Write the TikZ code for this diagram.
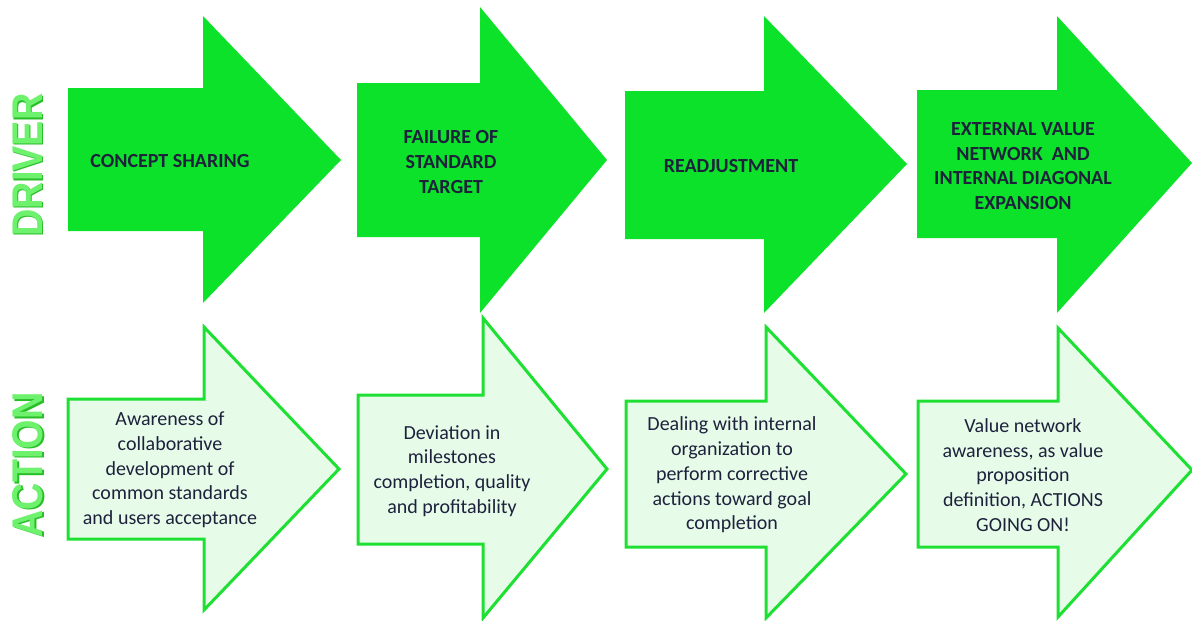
\documentclass[tikz,border=0pt]{standalone}
\usepackage{fontspec}
\setmainfont{Carlito}
\newfontfamily\labelfont{Liberation Sans}
\usepackage{graphicx}
\definecolor{drvfill}{RGB}{12,226,42}
\definecolor{actfill}{RGB}{230,252,233}
\definecolor{actline}{RGB}{30,224,50}
\definecolor{txt}{RGB}{30,33,60}
\definecolor{lbllight}{RGB}{110,242,110}
\definecolor{lbldark}{RGB}{40,190,40}
\newcommand{\myarrow}[8]{(#1,#2) -- (#4,#2) -- (#4,#5) -- (#7,#8) -- (#4,#6) -- (#4,#3) -- (#1,#3) -- cycle}
\begin{document}
\begin{tikzpicture}[x=1pt,y=-1pt,
  drvarrow/.style={fill=drvfill},
  actarrow/.style={fill=actfill,draw=actline,line width=3pt,line join=miter},
  drvtext/.style={font=\fontsize{20}{24.7}\selectfont\bfseries,text=txt,align=center,inner sep=0pt},
  acttext/.style={font=\fontsize{20}{24.7}\selectfont,text=txt,align=center,inner sep=0pt},
  sidelabel/.style={rotate=90,font=\labelfont\bfseries\fontsize{43}{43}\selectfont,inner sep=0pt}]
\useasboundingbox (0,0) rectangle (1192,621);
\clip (0,0) rectangle (1192,621);
% DRIVER row
\path[drvarrow] \myarrow{68}{88}{231}{203}{16}{303}{341}{160};
\path[drvarrow] \myarrow{357}{83}{237}{480}{7}{313}{607}{160};
\path[drvarrow] \myarrow{625}{91}{239}{764}{16}{313}{907}{164};
\path[drvarrow] \myarrow{917}{90}{238}{1057}{16}{313}{1192}{163};
% ACTION row
\path[actarrow] \myarrow{68}{399}{539}{204}{327}{610}{339}{469};
\path[actarrow] \myarrow{358}{395}{544}{483}{318}{618}{607}{469};
\path[actarrow] \myarrow{626}{401}{547}{766}{327}{618}{906}{474};
\path[actarrow] \myarrow{918}{401}{547}{1058}{328}{617}{1192}{470};
% side labels
\node[sidelabel,text=lbldark] (drvshadow) at (29.2,166.2) {\scalebox{0.88}[1]{DRIVER}};
\node[sidelabel,text=lbllight] (drvlabel) at (28,165) {\scalebox{0.88}[1]{DRIVER}};
\node[sidelabel,text=lbldark] (actshadow) at (29.2,466.2) {\scalebox{0.88}[1]{ACTION}};
\node[sidelabel,text=lbllight] (actlabel) at (28,465) {\scalebox{0.88}[1]{ACTION}};
% driver texts
\node[drvtext] (d1) at (170,161) {CONCEPT SHARING};
\node[drvtext] (d2) at (451,162) {FAILURE OF\\STANDARD\\TARGET};
\node[drvtext] (d3) at (731,166) {READJUSTMENT};
\node[drvtext] (d4) at (1023,166) {EXTERNAL VALUE\\NETWORK\ \ AND\\INTERNAL DIAGONAL\\EXPANSION};
% action texts
\node[acttext] (a1) at (170,470) {Awareness of\\collaborative\\development of\\common standards\\and users acceptance};
\node[acttext] (a2) at (452,471) {Deviation in\\milestones\\completion, quality\\and profitability};
\node[acttext] (a3) at (732,475) {Dealing with internal\\organization to\\perform corrective\\actions toward goal\\completion};
\node[acttext] (a4) at (1023,475) {Value network\\awareness, as value\\proposition\\definition, ACTIONS\\GOING ON!};
\end{tikzpicture}
\end{document}
